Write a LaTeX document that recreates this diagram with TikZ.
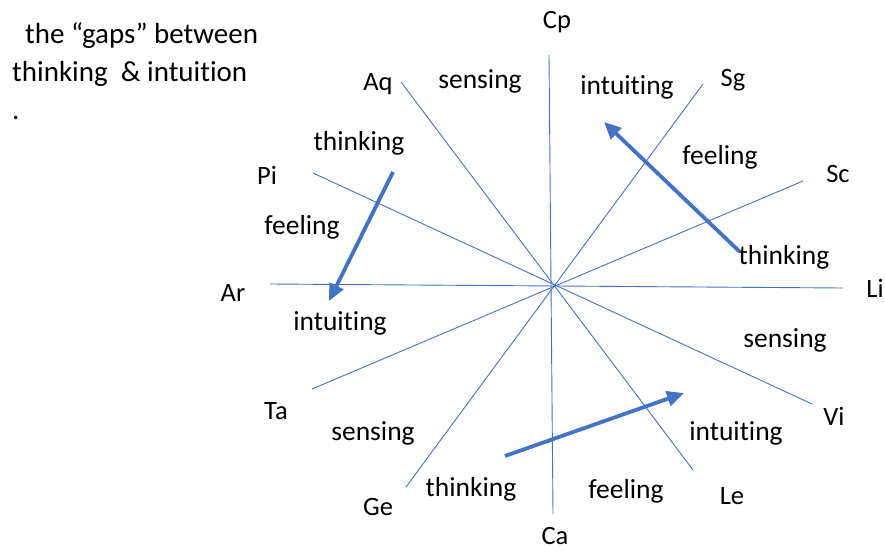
\documentclass[tikz,border=0pt]{standalone}
\usepackage{fontspec}
\setmainfont{Carlito}[Ligatures={NoCommon}]
\usepackage{tikz}
\usetikzlibrary{positioning,calc}
\usetikzlibrary{arrows.meta}
\definecolor{SignBlue}{RGB}{68,114,196}
\tikzset{
  spoke/.style={draw=SignBlue,line width=0.9pt},
  leap/.style={draw=SignBlue,line width=3.8pt,-{Triangle[length=17pt,width=15pt]}},
  sign/.style={inner sep=0pt,font=\fontsize{26.5}{30}\selectfont},
  mode/.style={inner sep=0pt,font=\fontsize{27.5}{32}\selectfont},
}
\tikzset{note/.style={inner sep=0pt,anchor=base west,font=\fontsize{29}{34}\selectfont}}

\begin{document}
\begin{tikzpicture}[x=1pt,y=-1pt]
\useasboundingbox (0,0) rectangle (885,553);
% ends of the six spokes
\coordinate (cp) at (549,55);
\coordinate (ca) at (553,514);
\coordinate (ar) at (270,284);
\coordinate (li) at (843,288);
\coordinate (aq) at (401,82);
\coordinate (le) at (693,470);
\coordinate (sg) at (703,84);
\coordinate (ge) at (406,487);
\coordinate (pi) at (313,173);
\coordinate (vi) at (812,404);
\coordinate (sc) at (803,181);
\coordinate (ta) at (312,389);
\draw[spoke] (cp) -- (ca);
\draw[spoke] (ar) -- (li);
\draw[spoke] (aq) -- (le);
\draw[spoke] (sg) -- (ge);
\draw[spoke] (pi) -- (vi);
\draw[spoke] (sc) -- (ta);
% sign names
\node[sign] (lcp) at (557,22) {Cp};
\node[sign] (laq) at (378,84) {Aq};
\node[sign] (lsg) at (733,80) {Sg};
\node[sign] (lpi) at (267,175) {Pi};
\node[sign] (lsc) at (838,174) {Sc};
\node[sign] (lar) at (233,293) {Ar};
\node[sign] (lli) at (875,288) {Li};
\node[sign] (lta) at (276,411) {Ta};
\node[sign] (lvi) at (834,416) {Vi};
\node[sign] (lge) at (378,507) {Ge};
\node[sign] (lca) at (555,536) {Ca};
\node[sign] (lle) at (732,496) {Le};
% modes in the sectors
\node[mode] (s1) at (480,81) {sensing};
\node[mode] (i1) at (627,87) {intuiting};
\node[mode] (t1) at (359,143) {thinking};
\node[mode] (f1) at (720,157) {feeling};
\node[mode] (f2) at (302,227) {feeling};
\node[mode] (t2) at (784,257) {thinking};
\node[mode] (i2) at (340,323) {intuiting};
\node[mode] (s2) at (785,340) {sensing};
\node[mode] (s3) at (373,433) {sensing};
\node[mode] (i3) at (736,433) {intuiting};
\node[mode] (t3) at (471,489) {thinking};
\node[mode] (f3) at (626,491) {feeling};
% the jumps
\coordinate (a1) at (393,172);
\coordinate (b1) at (329,301);
\coordinate (a2) at (740,252);
\coordinate (b2) at (604,122);
\coordinate (a3) at (505,456);
\coordinate (b3) at (684,393);
\draw[leap] (a1) -- (b1);
\draw[leap] (a2) -- (b2);
\draw[leap] (a3) -- (b3);
% caption
\node[note] (c1) at (25,44) {the “gaps” between};
\node[note] (c2) at (12,82) {thinking \ \& intuition};
\node[note] (c3) at (12,120) {.};
\end{tikzpicture}
\end{document}
